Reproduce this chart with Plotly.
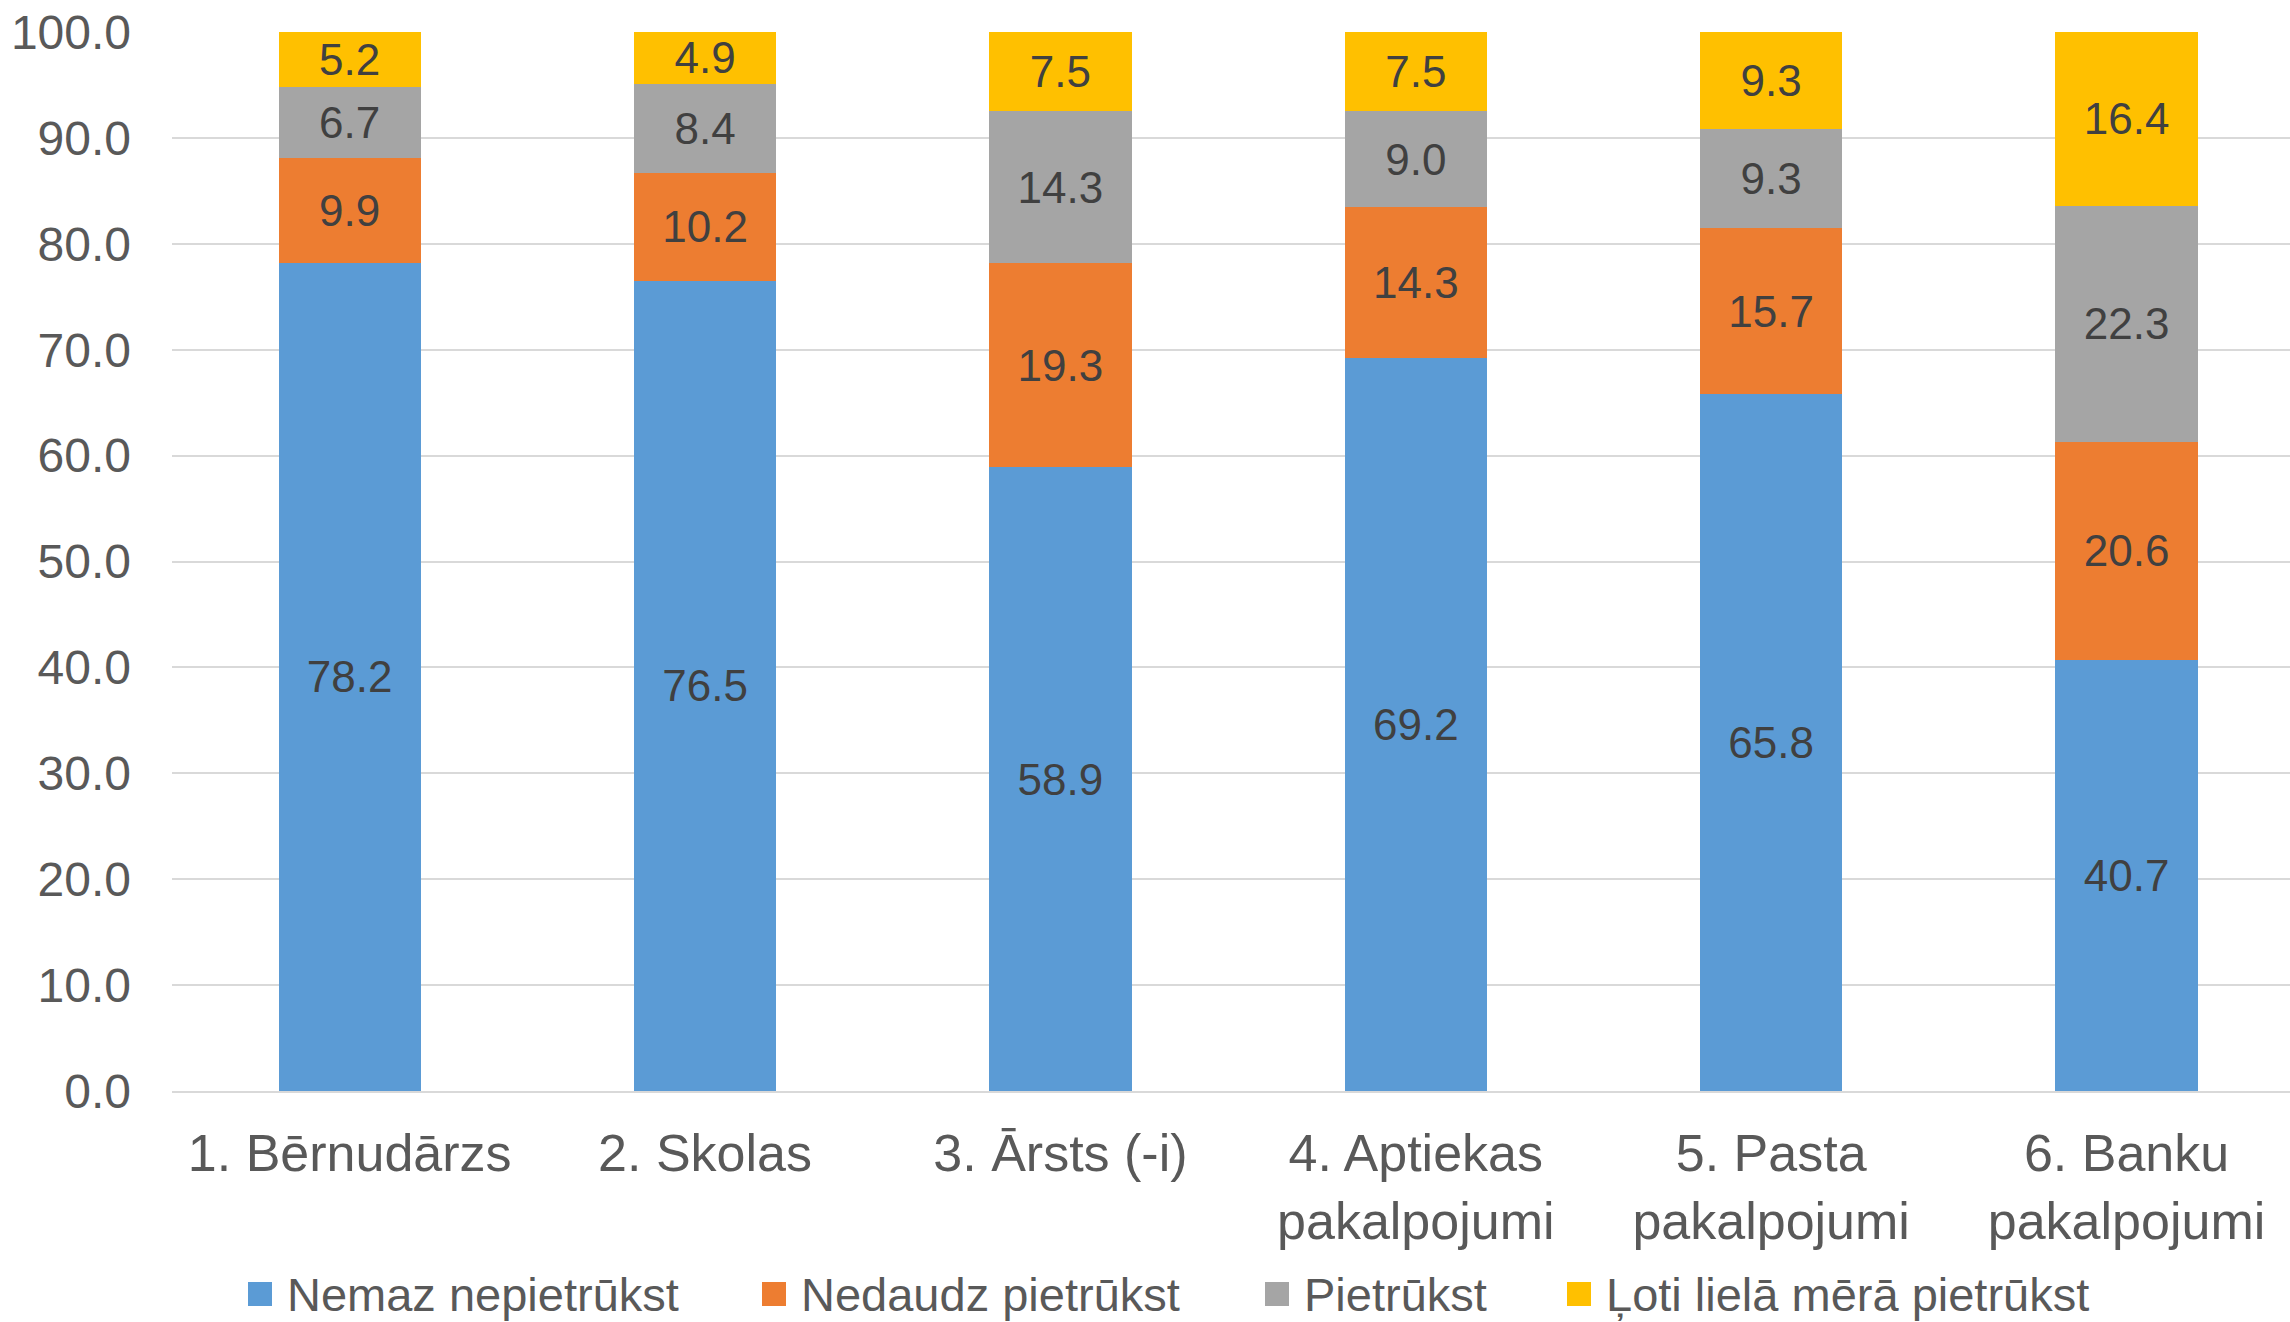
import plotly.graph_objects as go

categories = ['1. Bērnudārzs', '2. Skolas', '3. Ārsts (-i)', '4. Aptiekas<br>pakalpojumi',
              '5. Pasta<br>pakalpojumi', '6. Banku<br>pakalpojumi']

series_names = ['Nemaz nepietrūkst', 'Nedaudz pietrūkst', 'Pietrūkst', 'Ļoti lielā mērā pietrūkst']
nemaz = [78.2, 76.5, 58.9, 69.2, 65.8, 40.7]
nedaudz = [9.9, 10.2, 19.3, 14.3, 15.7, 20.6]
pietrukst = [6.7, 8.4, 14.3, 9.0, 9.3, 22.3]
loti = [5.2, 4.9, 7.5, 7.5, 9.3, 16.4]

colors = ['#5B9BD5', '#ED7D31', '#A5A5A5', '#FFC000']
FONT = 'Liberation Sans, Arial, sans-serif'

# plot area in page pixels
PL, PT, PW, PH = 172, 32, 2118, 1059

fig = go.Figure()
for name, vals, col in zip(series_names, [nemaz, nedaudz, pietrukst, loti], colors):
    fig.add_trace(go.Bar(
        x=list(range(len(categories))), y=vals, name=name, showlegend=False,
        marker=dict(color=col, line=dict(width=0)),
        width=0.4, texttemplate='%{y:.1f}', textposition='inside',
        insidetextanchor='middle', constraintext='none', textangle=0,
        textfont=dict(family=FONT, size=44, color='#404040'),
        hoverinfo='skip'))

# legend below the plot, drawn by hand so it does not squeeze the plot area
legend_left = [248, 762, 1265, 1567]  # left edge of each swatch, page px
legend_mid = 1294
sw = 24
def px_x(px):
    return (px - PL) / PW
def px_y(py):
    return (PT + PH - py) / PH

for name, col, lx in zip(series_names, colors, legend_left):
    fig.add_shape(type='rect', xref='paper', yref='paper',
                  x0=px_x(lx), x1=px_x(lx + sw),
                  y0=px_y(legend_mid + sw / 2), y1=px_y(legend_mid - sw / 2),
                  fillcolor=col, line=dict(width=0))
    fig.add_annotation(xref='paper', yref='paper', x=px_x(lx + 37), y=px_y(legend_mid),
                       text=name, showarrow=False, xanchor='left', yanchor='middle',
                       font=dict(family=FONT, size=47, color='#595959'))

fig.update_layout(
    barmode='stack', width=2290, height=1322,
    margin=dict(l=PL, r=0, t=PT, b=1322 - PT - PH),
    paper_bgcolor='white', plot_bgcolor='white',
    font=dict(family=FONT, color='#595959'),
    showlegend=False,
)
fig.update_xaxes(
    range=[-0.5, 5.46], tickvals=list(range(len(categories))), ticktext=categories,
    tickfont=dict(family=FONT, size=52, color='#595959'),
    showline=True, linecolor='#D9D9D9', linewidth=2, showgrid=False, automargin=False,
    ticks='', ticklabelstandoff=16, zeroline=False)
fig.update_yaxes(
    range=[0, 100], dtick=10, tickformat='.1f',
    tickfont=dict(family=FONT, size=48, color='#595959'),
    showgrid=True, gridcolor='#D9D9D9', gridwidth=2, automargin=False,
    ticklabeloverflow='allow',
    ticks='', ticklabelstandoff=40, zeroline=False, showline=False)

# drop the default 8px body margin so the figure fills the window exactly
fig.write_html('out.html', config={'displayModeBar': False},
               post_script="document.body.style.margin='0';")
